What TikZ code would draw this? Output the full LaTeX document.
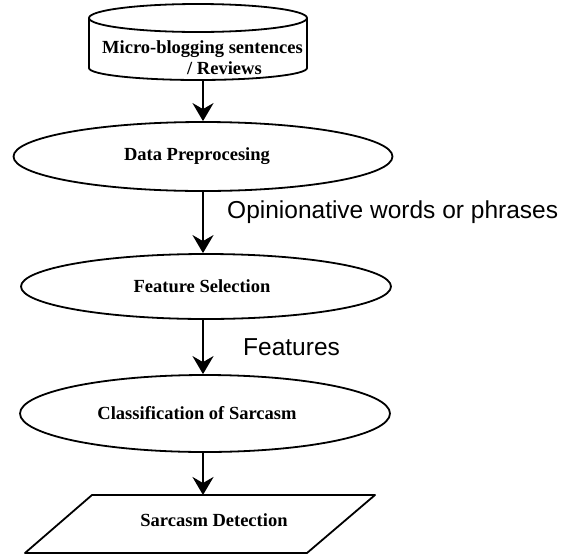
\documentclass[tikz,border=0pt]{standalone}
\usepackage{fontspec}
\setmainfont{Liberation Serif}
\newfontfamily\arialfont{Liberation Sans}
\usetikzlibrary{shapes.geometric,arrows.meta}
\tikzset{
  proc/.style={ellipse, draw, line width=1.8pt, inner sep=0pt,
    font=\fontsize{18.5}{22}\selectfont\bfseries},
  lbl/.style={font=\fontsize{18.5}{21}\selectfont\bfseries, inner sep=0pt},
  side/.style={font=\arialfont\fontsize{24.5}{28}\selectfont, anchor=west, inner sep=0pt},
  flow/.style={line width=2.6pt, -{Stealth[length=18pt,width=21pt,inset=6pt]}},
  shapeline/.style={line width=1.8pt, line join=round}
}
\begin{document}
\begin{tikzpicture}[x=1pt,y=-1pt]
\useasboundingbox (0,0) rectangle (563,555);
% cylinder
\draw[shapeline] (198,18) ellipse [x radius=109, y radius=14];
\draw[shapeline] (89,18) -- (89,68) arc[start angle=180, end angle=0, x radius=109, y radius=12] -- (307,18);
\node[lbl, align=left, anchor=west] (src) at (102,57.5) {Micro-blogging sentences\\\hspace*{85pt}/ Reviews};
\coordinate (srcb) at (203,80);
% ellipses
\node[proc, minimum width=379pt, minimum height=69pt] (dp) at (203,156.5) {\hspace*{-12pt}Data Preprocesing};
\node[proc, minimum width=370pt, minimum height=65pt] (fs) at (206,286.5) {\hspace*{-8pt}Feature Selection};
\node[proc, minimum width=370pt, minimum height=77pt] (cl) at (205,413.5) {\hspace*{-16pt}Classification of Sarcasm};
% parallelogram
\draw[shapeline] (92,495) -- (375,495) -- (307,553) -- (25,553) -- cycle;
\node[lbl] (sd) at (214,520) {Sarcasm Detection};
\coordinate (sdt) at (203,495);
% side labels
\node[side] (ow) at (227,212) {Opinionative words or phrases};
\node[side] (ft) at (243,347) {Features};
% arrows
\draw[flow] (srcb) -- (srcb |- dp.north);
\draw[flow] (dp.south -| srcb) -- (srcb |- fs.north);
\draw[flow] (fs.south -| srcb) -- (srcb |- cl.north);
\draw[flow] (cl.south -| srcb) -- (sdt);
\end{tikzpicture}
\end{document}
